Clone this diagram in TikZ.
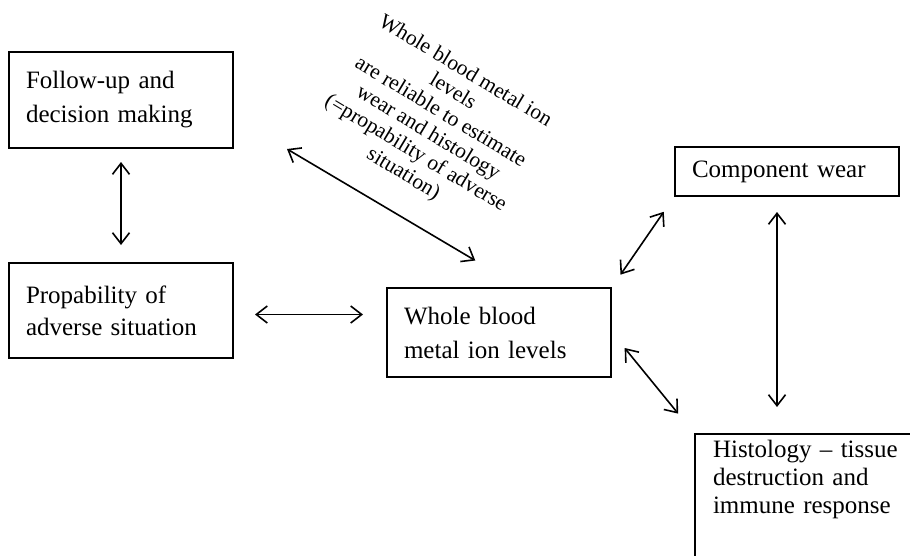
\documentclass[tikz,border=0pt]{standalone}
\usepackage{fontspec}
\setmainfont{Liberation Serif}
\usetikzlibrary{arrows.meta}

\begin{document}
\begin{tikzpicture}[x=1pt,y=-1pt,
    box/.style={draw, line width=2pt, anchor=north west, align=left,
        inner xsep=17pt, inner ysep=0pt},
    link/.style={{Straight Barb[length=11pt,width=17pt]}-{Straight Barb[length=11pt,width=17pt]},
        line width=1.6pt}]

\useasboundingbox (0,0) rectangle (910,555);
\clip (0,0) rectangle (910,555);

% Boxes
\node[box, text width=190pt, minimum height=96pt,
      font=\fontsize{25}{34}\selectfont] (follow) at (8,51)
      {Follow-up and\\decision making};
\node[box, text width=190pt, minimum height=95pt,
      font=\fontsize{25}{32}\selectfont] (prop) at (8,262)
      {Propability of\\adverse situation};
\node[box, text width=190pt, minimum height=89pt,
      font=\fontsize{25}{34}\selectfont] (ion) at (386,287)
      {Whole blood\\metal ion levels};
\node[box, text width=190pt, minimum height=49pt,
      font=\fontsize{25}{34}\selectfont] (wear) at (674,146)
      {Component wear};
\node[box, text width=240pt, inner xsep=18pt, inner ysep=6pt, text depth=120pt,
      font=\fontsize{25}{28}\selectfont] (histo) at (694,433)
      {Histology -- tissue\\destruction and\\immune response};

% Rotated note
\node[rotate=-31, align=center, font=\fontsize{21.5}{24}\selectfont] (note) at (434,123)
      {Whole blood metal ion\\levels\\are reliable to estimate\\wear and histology\\(=propability of adverse\\situation)};

% Links
\draw[link, shorten <=13pt, shorten >=17pt] (follow.south) -- (prop.north);
\draw[link, shorten <=21pt, shorten >=23pt]
    ([yshift=-4pt]prop.east) -- ([yshift=-4pt]prop.east -| ion.west);
\draw[link, shorten >=52pt] ([xshift=53pt]follow.south east) -- ([xshift=21pt]ion.north);
\draw[link, shorten <=15pt, shorten >=18pt] (ion.north east) -- (wear.south west);
\draw[link, shorten <=20pt, shorten >=25pt] (ion.east) -- (histo.north west);
\draw[link, shorten <=15pt, shorten >=26pt]
    ([xshift=-10pt]wear.south) -- ([xshift=-10pt]wear.south |- histo.north);

\end{tikzpicture}
\end{document}
